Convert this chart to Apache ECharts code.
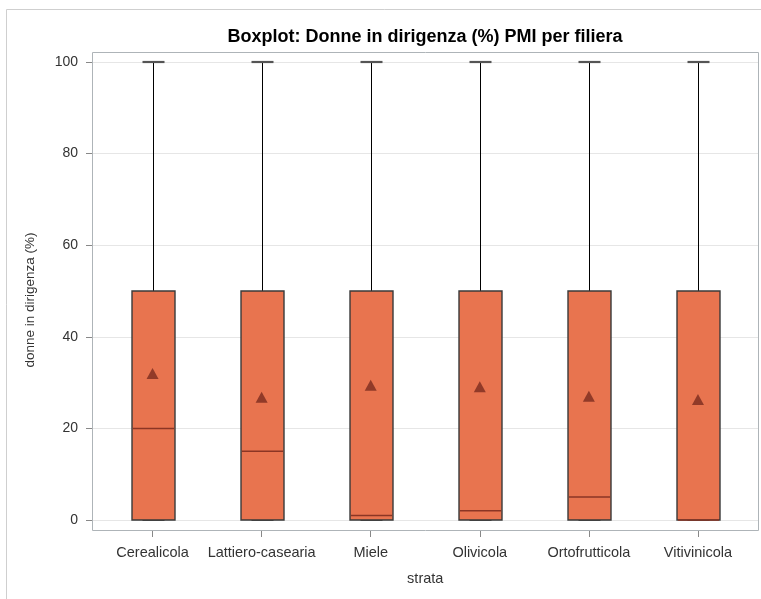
<!DOCTYPE html>
<html>
<head>
<meta charset="utf-8">
<script src="https://cdn.jsdelivr.net/npm/echarts@6/dist/echarts.min.js"></script>
<style>html,body{margin:0;padding:0;background:#fff}#c{width:761px;height:599px}</style>
</head>
<body>
<div id="c"></div>
<script>
const categories = ['Cerealicola', 'Lattiero-casearia', 'Miele', 'Olivicola', 'Ortofrutticola', 'Vitivinicola'];
const minValues = [0, 0, 0, 0, 0, 0];
const q1Values = [0, 0, 0, 0, 0, 0];
const medianValues = [20, 15, 1, 2, 5, 0];
const q3Values = [50, 50, 50, 50, 50, 50];
const maxValues = [100, 100, 100, 100, 100, 100];
const meanValues = [32.0, 26.8, 29.4, 29.1, 27.0, 26.3];
const yTicks = [0, 20, 40, 60, 80, 100];

const FONT = 'Liberation Sans, Arial, sans-serif';
const boxData = categories.map((c, i) => [i, minValues[i], q1Values[i], medianValues[i], q3Values[i], maxValues[i]]);
const meanData = categories.map((c, i) => [i, meanValues[i]]);

function renderBox(params, api) {
  const i = api.value(0);
  const lo = api.coord([i, api.value(1)]);
  const q1 = api.coord([i, api.value(2)]);
  const med = api.coord([i, api.value(3)]);
  const q3 = api.coord([i, api.value(4)]);
  const hi = api.coord([i, api.value(5)]);
  const band = api.size([1, 0])[0];
  const bw = Math.round(band * 0.395);
  const cw = Math.round(bw / 2);
  const x = Math.round(q1[0]) + 0.5;
  const left = x - bw / 2;
  return {
    type: 'group',
    children: [
      { type: 'line', shape: { x1: x, y1: q3[1], x2: x, y2: hi[1] }, style: { stroke: '#000', lineWidth: 1 } },
      { type: 'line', shape: { x1: x - cw / 2, y1: hi[1], x2: x + cw / 2, y2: hi[1] }, style: { stroke: '#555', lineWidth: 2.2 } },
      { type: 'line', shape: { x1: x, y1: lo[1], x2: x, y2: q1[1] }, style: { stroke: '#000', lineWidth: 1 } },
      { type: 'line', shape: { x1: x - cw / 2, y1: lo[1], x2: x + cw / 2, y2: lo[1] }, style: { stroke: '#555', lineWidth: 2 } },
      { type: 'rect', shape: { x: left, y: q3[1], width: bw, height: q1[1] - q3[1] }, style: { fill: '#E8744F', stroke: '#3a3a3a', lineWidth: 1.4 } },
      { type: 'line', shape: { x1: left + 1, y1: med[1], x2: left + bw - 1, y2: med[1] }, style: { stroke: '#8B3524', lineWidth: 1.5 } }
    ]
  };
}

const chart = echarts.init(document.getElementById('c'), null, { renderer: 'canvas' });
chart.setOption({
  animation: false,
  backgroundColor: '#fff',
  title: {
    text: 'Boxplot: Donne in dirigenza (%) PMI per filiera',
    left: 420, top: 23, textAlign: 'center',
    textStyle: { fontFamily: FONT, fontSize: 18, fontWeight: 'bold', color: '#000' }
  },
  grid: [
    { left: 98, right: 8.5, top: 62, bottom: 79 },
    { left: 92, right: 3, top: 62, bottom: 79 },
    { left: 98, right: 8.5, top: 62, bottom: 68 }
  ],
  xAxis: [
    { type: 'category', data: categories, gridIndex: 0, show: false },
    { type: 'value', gridIndex: 1, show: false, min: 0, max: 1 },
    {
      type: 'category', data: categories, gridIndex: 2,
      axisLine: { show: false },
      axisTick: { show: true, alignWithLabel: true, length: 6, lineStyle: { color: '#888' } },
      axisLabel: { fontFamily: FONT, fontSize: 14.5, color: '#333', margin: 14, interval: 0 },
      name: 'strata', nameLocation: 'middle', nameGap: 40,
      nameTextStyle: { fontFamily: FONT, fontSize: 14.5, color: '#333' }
    }
  ],
  yAxis: [
    {
      type: 'value', gridIndex: 0, min: 0, max: 100, interval: 20, offset: 6,
      axisLine: { show: false },
      axisTick: { show: true, length: 6, lineStyle: { color: '#888' } },
      splitLine: { show: false },
      axisLabel: { fontFamily: FONT, fontSize: 14, color: '#333', margin: 14, formatter: v => yTicks.includes(v) ? String(v) : '' }
    },
    {
      type: 'value', gridIndex: 1, min: 0, max: 100, interval: 20,
      axisLine: { show: false }, axisTick: { show: false }, axisLabel: { show: false },
      splitLine: { show: true, lineStyle: { color: '#e6e6e6', width: 1 } }
    },
    { type: 'value', gridIndex: 2, show: false, min: 0, max: 1 }
  ],
  graphic: [
    { type: 'rect', shape: { x: 6.5, y: 9.5, width: 900, height: 800 }, style: { fill: 'none', stroke: '#cfcfcf', lineWidth: 1 }, z: 0, silent: true },
    { type: 'rect', shape: { x: 92.5, y: 52.5, width: 666, height: 478 }, style: { fill: 'none', stroke: '#aeb4b8', lineWidth: 1 }, z: 100, silent: true },
    { type: 'text', x: 30, y: 300, rotation: Math.PI / 2, style: { text: 'donne in dirigenza (%)', fontFamily: FONT, fontSize: 13.5, fill: '#333', align: 'center', verticalAlign: 'middle' }, silent: true }
  ],
  series: [
    { type: 'custom', xAxisIndex: 0, yAxisIndex: 0, renderItem: renderBox, data: boxData, encode: { x: 0, y: [1, 2, 3, 4, 5] }, z: 3 },
    { type: 'scatter', xAxisIndex: 0, yAxisIndex: 0, data: meanData, symbol: 'triangle', symbolSize: [12, 11], itemStyle: { color: '#7A2C1E' }, z: 5 }
  ]
});
</script>
</body>
</html>
